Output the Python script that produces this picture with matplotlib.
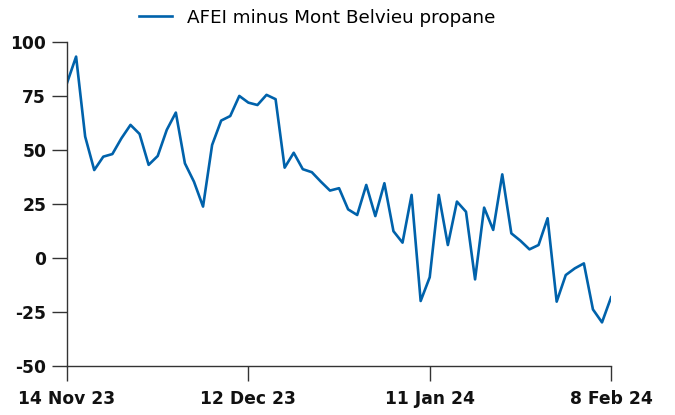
import matplotlib
matplotlib.use("Agg")
import matplotlib.pyplot as plt

# business days, 14 Nov 23 .. 8 Feb 24 (61 points)
spread = [
    81.0, 93.2, 56.2, 40.7, 46.9, 48.1, 55.4, 61.6, 57.4, 43.1,
    47.2, 59.3, 67.3, 43.8, 35.3, 23.8, 52.3, 63.6, 65.7, 75.0,
    71.9, 70.8, 75.5, 73.5, 41.8, 48.7, 41.1, 39.7, 35.3, 31.2,
    32.3, 22.5, 19.9, 33.8, 19.4, 34.6, 12.4, 7.1, 29.2, -19.9,
    -8.9, 29.2, 6.0, 26.1, 21.4, -9.9, 23.3, 13.0, 38.7, 11.4,
    8.0, 4.0, 6.0, 18.4, -20.2, -7.9, -4.8, -2.5, -23.8, -29.8,
    -18.2,
]
tick_pos = [0, 20, 40, 60]
tick_labels = ["14 Nov 23", "12 Dec 23", "11 Jan 24", "8 Feb 24"]
y_ticks = [-50, -25, 0, 25, 50, 75, 100]

plt.rcParams["font.family"] = ["DejaVu Sans"]
plt.rcParams["axes.unicode_minus"] = False

fig = plt.figure(figsize=(6.75, 4.15), dpi=100)
ax = fig.add_axes([0.0993, 0.118, 0.806, 0.781])

ax.plot(range(len(spread)), spread, color="#0062ab", linewidth=1.9,
        label="AFEI minus Mont Belvieu propane")

ax.set_xlim(0, len(spread) - 1)
ax.set_ylim(-50, 100)
ax.set_xticks(tick_pos)
ax.set_xticklabels(tick_labels, fontweight="bold")
ax.set_yticks(y_ticks)
ax.set_yticklabels([str(v) for v in y_ticks], fontweight="bold")

for s in ["top", "right"]:
    ax.spines[s].set_visible(False)
for s in ["left", "bottom"]:
    ax.spines[s].set_color("#333333")
    ax.spines[s].set_linewidth(1.0)

ax.tick_params(axis="both", length=11, width=1.0, color="#333333",
               labelsize=12.3, labelcolor="#111111", pad=4)
ax.tick_params(axis="x", pad=6)

fig.legend(loc="upper center", bbox_to_anchor=(0.47, 0.983), frameon=False,
           fontsize=13.2, handlelength=1.8, handletextpad=0.8,
           borderaxespad=0.0, borderpad=0.1)

fig.savefig("out.png", dpi=100)
